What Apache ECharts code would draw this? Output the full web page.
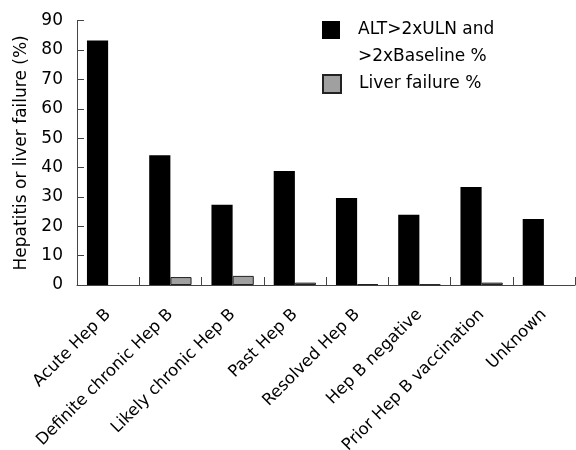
<!DOCTYPE html>
<html>
<head>
<meta charset="utf-8">
<script src="https://cdn.jsdelivr.net/npm/echarts@6/dist/echarts.min.js"></script>
<style>html,body{margin:0;padding:0;background:#fff;}#c{width:576px;height:450px;}</style>
</head>
<body>
<div id="c"></div>
<script>
const categories = ['Acute Hep B','Definite chronic Hep B','Likely chronic Hep B','Past Hep B','Resolved Hep B','Hep B negative','Prior Hep B vaccination','Unknown'];
const altValues = [83.3, 44.2, 27.3, 38.8, 29.6, 23.9, 33.4, 22.5];
const liverFailureValues = [0, 2.7, 3.1, 0.8, 0.3, 0.2, 0.8, 0];
const seriesNames = ['ALT>2xULN and >2xBaseline %', 'Liver failure %'];
const legendLines = ['ALT>2xULN and', '>2xBaseline %'];
const yTicks = {min: 0, max: 90, interval: 10};
const FONT = 'DejaVu Sans';
const FS = 17;

const chart = echarts.init(document.getElementById('c'));
chart.setOption({
  animation: false,
  textStyle: {fontFamily: FONT},
  grid: {left: 77, right: 1, top: 20.7, bottom: 165, containLabel: false, outerBoundsMode: 'none'},
  legend: [{
    orient: 'vertical', left: 322, top: -10.5, itemWidth: 18, itemHeight: 18,
    padding: 0, icon: 'rect',
    data: [seriesNames[0]],
    formatter: function () { return '\n' + legendLines.join('\n'); },
    textStyle: {fontFamily: FONT, fontSize: FS, color: '#000', lineHeight: 27, padding: [0, 0, 0, 13]},
  }, {
    orient: 'vertical', left: 322, top: 74, itemWidth: 18, itemHeight: 18,
    padding: 0, icon: 'rect',
    data: [seriesNames[1]],
    textStyle: {fontFamily: FONT, fontSize: FS, color: '#000', padding: [0, 0, 0, 13]},
  }],
  xAxis: {
    type: 'category', data: categories,
    axisLine: {lineStyle: {color: '#444', width: 1}},
    axisTick: {show: true, inside: true, length: 8, alignWithLabel: false, lineStyle: {color: '#444'}},
    axisLabel: {rotate: 45, margin: 27, interval: 0, fontFamily: FONT, fontSize: 16.5, color: '#000'},
  },
  yAxis: {
    type: 'value', min: yTicks.min, max: yTicks.max, interval: yTicks.interval,
    name: 'Hepatitis or liver failure (%)', nameLocation: 'middle', nameGap: 47,
    nameTextStyle: {fontFamily: FONT, fontSize: FS, color: '#000'},
    axisLine: {show: true, lineStyle: {color: '#444', width: 1}},
    axisTick: {show: true, inside: true, length: 7, lineStyle: {color: '#444'}},
    splitLine: {show: false},
    axisLabel: {margin: 14, fontFamily: FONT, fontSize: FS, color: '#000'},
  },
  series: [{
    name: seriesNames[0], type: 'bar', data: altValues,
    barGap: '0%', barCategoryGap: '32%',
    itemStyle: {color: '#000'},
  }, {
    name: seriesNames[1], type: 'bar', data: liverFailureValues.map(v => v === 0 ? '-' : v),
    itemStyle: {color: '#a0a0a0', borderColor: '#222', borderWidth: 1},
  }]
});
</script>
</body>
</html>
